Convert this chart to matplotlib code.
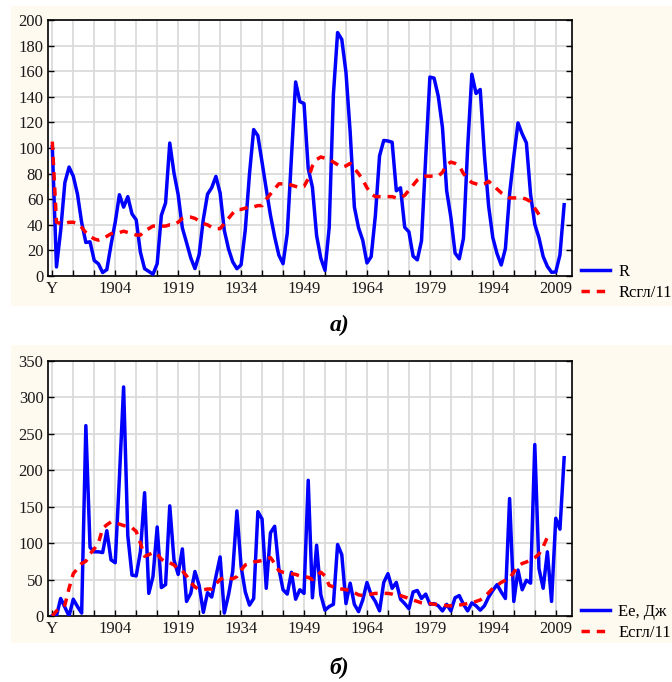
import numpy as np
import matplotlib
matplotlib.use("Agg")
import matplotlib.pyplot as plt
from matplotlib.patches import Rectangle
from matplotlib.ticker import FixedLocator, MultipleLocator

plt.rcParams['font.family'] = ['Liberation Serif', 'DejaVu Serif']
plt.rcParams['lines.scale_dashes'] = False

# annual values 1889..2011
years = np.arange(1889, 2012)

r_values = [
    101, 7.1, 35.6, 73.0, 85.1, 78.0, 64.0, 41.8, 26.2, 26.7, 12.1,          # 1889-1899
    9.5, 2.7, 5.0, 24.4, 42.0, 63.5, 53.8, 62.0, 48.5, 43.9,                # 1900s
    18.6, 5.7, 3.6, 1.4, 9.6, 47.4, 57.1, 103.9, 80.6, 63.6,                # 1910s
    37.6, 26.1, 14.2, 5.8, 16.7, 44.3, 63.9, 69.0, 77.8, 64.9,              # 1920s
    35.7, 21.2, 11.1, 5.7, 8.7, 36.1, 79.7, 114.4, 109.6, 88.8,             # 1930s
    67.8, 47.5, 30.6, 16.3, 9.6, 33.2, 92.6, 151.6, 136.3, 134.7,           # 1940s
    83.9, 69.4, 31.5, 13.9, 4.4, 38.0, 141.7, 190.2, 184.8, 159.0,          # 1950s
    112.3, 53.9, 37.6, 27.9, 10.2, 15.1, 47.0, 93.8, 105.9, 105.5,          # 1960s
    104.5, 66.6, 68.9, 38.0, 34.5, 15.5, 12.6, 27.5, 92.5, 155.4,           # 1970s
    154.6, 140.4, 115.9, 66.6, 45.9, 17.9, 13.4, 29.4, 100.2, 157.6,        # 1980s
    142.6, 145.7, 94.3, 54.6, 29.9, 17.5, 8.6, 21.5, 64.3, 93.3,            # 1990s
    119.6, 111.0, 104.0, 63.7, 40.4, 29.8, 15.2, 7.5, 2.9, 3.1,             # 2000s
    16.5, 55.7,                                                             # 2010-2011
]

# smoothed R, 1889..2005
r_smooth = [
    105, 42, 41, 41, 42, 42, 41, 38, 34, 31, 29,
    28, 29, 31, 33, 34, 34, 35, 34, 33, 32,
    32, 35, 37, 39, 39, 39, 39, 40, 40, 42,
    45, 46, 46, 45, 43, 41, 40, 38, 37, 37,
    41, 45, 49, 52, 52, 53, 54, 54, 55, 55,
    60, 64, 68, 72, 72, 72, 71, 70, 69, 70,
    76, 86, 91, 93, 92, 91, 89, 87, 85, 86,
    88, 84, 80, 75, 69, 64, 62, 62, 62, 62,
    62, 61, 61, 63, 67, 71, 75, 77, 78, 78,
    78, 78, 81, 87, 89, 88, 86, 80, 76, 73,
    72, 71, 72, 74, 71, 68, 65, 63, 61, 61,
    61, 61, 60, 58, 53, 48,
]

e_values = [
    0, 0, 24, 12, 0, 23, 13, 4, 261, 94, 88,
    88, 87, 117, 77, 73, 190, 314, 110, 56, 55,
    88, 169, 31, 54, 122, 39, 43, 151, 77, 57,
    92, 20, 31, 61, 42, 5, 32, 26, 54, 81,
    4, 29, 61, 144, 68, 33, 15, 24, 143, 133,
    38, 114, 123, 65, 36, 30, 60, 23, 36, 31,
    186, 25, 97, 29, 8, 13, 16, 98, 84, 17,
    45, 16, 6, 22, 46, 29, 20, 7, 46, 58,
    38, 46, 23, 17, 10, 33, 35, 24, 30, 16,
    17, 14, 7, 16, 7, 25, 28, 16, 7, 18,
    14, 8, 14, 26, 35, 43, 33, 24, 161, 20,
    63, 36, 49, 45, 235, 65, 38, 88, 20, 134,
    119, 217,
]

# smoothed E, 1889..2007
e_smooth = [
    0, 7, 10, 15, 38, 58, 65, 72, 75, 85, 92,
    100, 120, 125, 129, 128, 126, 124, 123, 121, 116,
    100, 82, 84, 87, 85, 78, 74, 73, 70, 64,
    62, 55, 46, 40, 36, 36, 37, 37, 44, 50,
    53, 52, 51, 54, 63, 70, 72, 74, 75, 76,
    78, 80, 72, 62, 60, 59, 58, 57, 55, 54,
    53, 50, 55, 60, 55, 42, 40, 38, 37, 36,
    35, 32, 29, 28, 29, 30, 31, 31, 31, 31,
    30, 28, 28, 26, 24, 22, 20, 18, 17, 17,
    16, 16, 15, 14, 14, 14, 15, 16, 17, 18,
    20, 22, 26, 32, 38, 42, 46, 49, 52, 60,
    68, 72, 74, 77, 80, 85, 95, 108,
]

tick_years = [1889, 1904, 1919, 1934, 1949, 1964, 1979, 1994, 2009]
tick_labels = ["Y", "1904", "1919", "1934", "1949", "1964", "1979", "1994", "2009"]

cream = "#fffaf0"
blue = "#0000ff"
red = "#ff0000"

fig = plt.figure(figsize=(6.72, 6.82), dpi=100)
fig.patch.set_facecolor("white")

W, H = 672.0, 682.0
fig.add_artist(Rectangle((11 / W, 1 - 306 / H), 1 - 11 / W, 300 / H,
                         transform=fig.transFigure, facecolor=cream,
                         edgecolor="none", zorder=-5))
fig.add_artist(Rectangle((11 / W, 1 - 643 / H), 1 - 11 / W, 298 / H,
                         transform=fig.transFigure, facecolor=cream,
                         edgecolor="none", zorder=-5))

ax1 = fig.add_axes([48.3 / W, 1 - 276 / H, (571.7 - 48.3) / W, 256 / H])
ax2 = fig.add_axes([48.3 / W, 1 - 616 / H, (571.7 - 48.3) / W, 255.3 / H])


def style(ax, ymax, ystep):
    ax.set_xlim(1888.05, 2012.8)
    ax.set_ylim(0, ymax)
    ax.xaxis.set_major_locator(FixedLocator(tick_years))
    ax.set_xticklabels(tick_labels)
    ax.xaxis.set_minor_locator(FixedLocator(list(range(1889, 2013, 5))))
    ax.yaxis.set_major_locator(MultipleLocator(ystep))
    ax.grid(True, which="both", color="#d8d8d8", linewidth=1.2)
    ax.set_axisbelow(True)
    ax.tick_params(axis="both", which="major", direction="in", labelsize=12,
                   length=4, width=1, right=True, labelcolor="#1a1a1a")
    ax.tick_params(axis="x", which="minor", direction="in", length=4, width=1)
    ax.tick_params(axis="x", pad=3.5)
    ax.tick_params(axis="y", pad=3.5)
    for s in ax.spines.values():
        s.set_linewidth(1.2)
        s.set_color("black")


ax1.plot(years, r_values, color=blue, linewidth=2.5, label="R", zorder=3)
ax1.plot(years[:len(r_smooth)], r_smooth, color=red, linewidth=2.5,
         dashes=(6, 5), label="Rсгл/11", zorder=4)
style(ax1, 200, 20)
ax1.legend(loc="center left", bbox_to_anchor=(581 / W, 1 - 282.4 / H),
           bbox_transform=fig.transFigure, frameon=False, fontsize=12,
           borderpad=0, borderaxespad=0, handlelength=1.75, handletextpad=0.5,
           labelspacing=0.3)

ax2.plot(years, e_values, color=blue, linewidth=2.5, label="Ee, Дж", zorder=3)
ax2.plot(years[:len(e_smooth)], e_smooth, color=red, linewidth=2.5,
         dashes=(6, 5), label="Eсгл/11", zorder=4)
style(ax2, 350, 50)
ax2.legend(loc="center left", bbox_to_anchor=(581 / W, 1 - 622.3 / H),
           bbox_transform=fig.transFigure, frameon=False, fontsize=12,
           borderpad=0, borderaxespad=0, handlelength=1.75, handletextpad=0.5,
           labelspacing=0.3)

fig.text(340 / W, 1 - 325 / H, "а)", ha="center", va="center", fontsize=17,
         fontweight="bold", fontstyle="italic")
fig.text(339 / W, 1 - 667 / H, "б)", ha="center", va="center", fontsize=17,
         fontweight="bold", fontstyle="italic")

fig.savefig("out.png", dpi=100, facecolor=fig.get_facecolor())
